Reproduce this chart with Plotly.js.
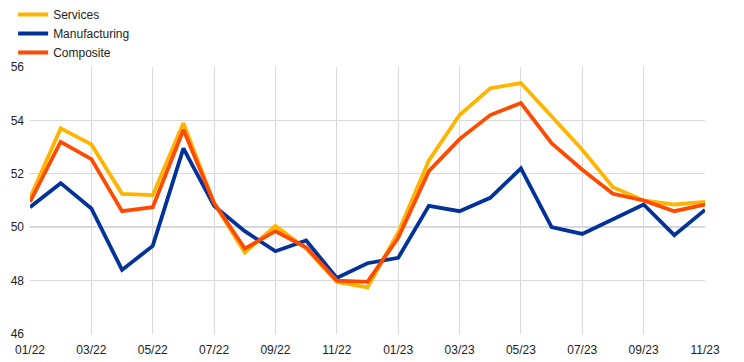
<!DOCTYPE html>
<html>
<head>
<meta charset="utf-8">
<script src="https://cdn.plot.ly/plotly-3.0.1.min.js"></script>
<style>html,body{margin:0;padding:0;background:#fff;}#chart{width:744px;height:362px;}</style>
</head>
<body>
<div id="chart"></div>
<script>
const months = ["01/22","02/22","03/22","04/22","05/22","06/22","07/22","08/22","09/22","10/22","11/22","12/22",
                "01/23","02/23","03/23","04/23","05/23","06/23","07/23","08/23","09/23","10/23","11/23"];
const services =      [51.1, 53.7, 53.1, 51.25, 51.2, 53.9, 50.9, 49.05, 50.05, 49.2, 47.95, 47.75,
                       49.8, 52.5, 54.2, 55.2, 55.4, 54.15, 52.9, 51.5, 51.0, 50.85, 50.95];
const manufacturing = [50.75, 51.65, 50.7, 48.4, 49.3, 52.95, 50.8, 49.85, 49.1, 49.5, 48.1, 48.65,
                       48.85, 50.8, 50.6, 51.1, 52.2, 50.0, 49.75, 50.3, 50.85, 49.7, 50.65];
const composite =     [50.95, 53.2, 52.55, 50.6, 50.75, 53.65, 50.9, 49.2, 49.85, 49.25, 48.0, 47.95,
                       49.6, 52.1, 53.3, 54.2, 54.65, 53.15, 52.15, 51.25, 51.0, 50.6, 50.85];
const tickLabels = months.filter((m, i) => i % 2 === 0);
const referenceLevel = 50;

const idx = months.map((m, i) => i);
const tickIdx = idx.filter(i => i % 2 === 0);

const traces = [
  {x: idx, y: services, name: "Services", type: "scatter", mode: "lines",
   line: {color: "#FFB400", width: 3.8}},
  {x: idx, y: manufacturing, name: "Manufacturing", type: "scatter", mode: "lines",
   line: {color: "#003299", width: 3.8}},
  {x: idx, y: composite, name: "Composite", type: "scatter", mode: "lines",
   line: {color: "#FF4B00", width: 3.8}}
];

const layout = {
  width: 744, height: 362,
  margin: {l: 30, r: 39, t: 66, b: 28},
  paper_bgcolor: "#fff", plot_bgcolor: "#fff",
  font: {family: "Liberation Sans, Arial, sans-serif", size: 12, color: "#222"},
  showlegend: true,
  legend: {xref: "paper", yref: "container", x: -0.025, y: 1.03, xanchor: "left", yanchor: "top",
           orientation: "v", font: {size: 12, color: "#222"}, itemwidth: 30, tracegroupgap: 0,
           bgcolor: "rgba(0,0,0,0)"},
  xaxis: {range: [0, 22], tickvals: tickIdx, ticktext: tickLabels, showgrid: true,
          gridcolor: "#d9d9d9", gridwidth: 1, zeroline: false, showline: false,
          ticks: "", ticklabelstandoff: 7, tickfont: {size: 12, color: "#222"},
          fixedrange: true, automargin: false},
  yaxis: {range: [46, 56], dtick: 2, tick0: 46, showgrid: true, gridcolor: "#d9d9d9",
          gridwidth: 1, zeroline: false, showline: false, ticks: "", ticklabelstandoff: 5,
          tickfont: {size: 12, color: "#222"}, fixedrange: true, automargin: false},
  shapes: [
    {type: "line", xref: "paper", yref: "y", x0: 0, x1: 1, y0: referenceLevel, y1: referenceLevel,
     line: {color: "#808080", width: 1}, layer: "below"}
  ]
};

Plotly.newPlot("chart", traces, layout, {displayModeBar: false, staticPlot: true});
</script>
</body>
</html>
